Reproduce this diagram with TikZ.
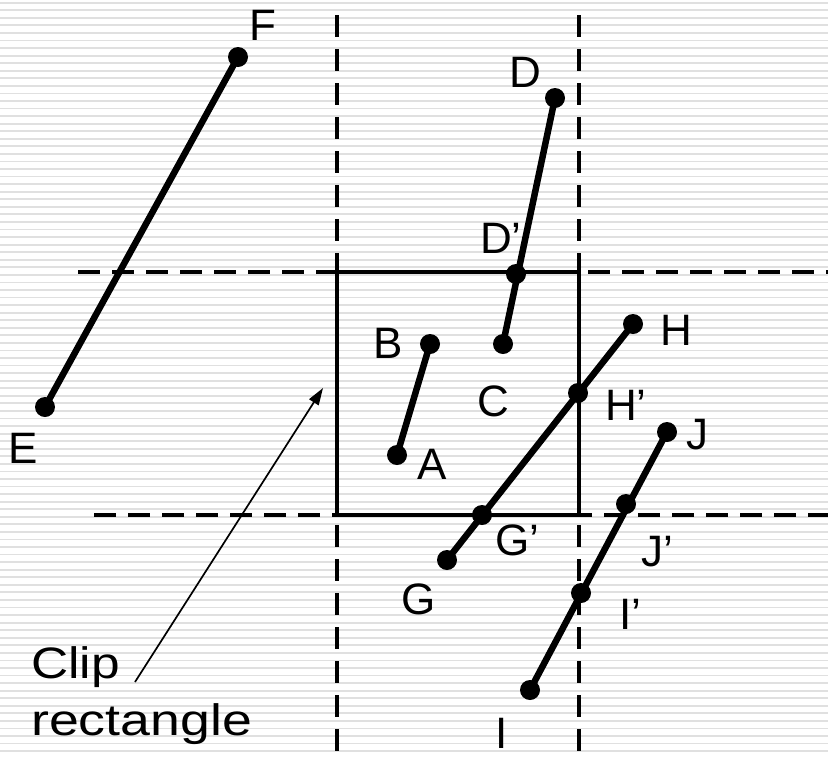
\documentclass[tikz,border=0pt]{standalone}
\usepackage{fontspec}
\setmainfont{Liberation Sans}
\usetikzlibrary{arrows.meta}
\definecolor{stripe}{RGB}{224,224,224}
\begin{document}
\begin{tikzpicture}[x=1pt,y=-1pt,
    dot/.style={circle,fill=black,inner sep=0pt,minimum size=20pt},
    seg/.style={line width=6.5pt},
    cut/.style={line width=3.2pt,dash pattern=on 22pt off 12pt},
    lbl/.style={inner sep=0pt,font=\fontsize{44}{50}\selectfont}]
\useasboundingbox (0,0) rectangle (828,756);
% striped background
\foreach \k in {0,...,99}
    \draw[stripe,line width=1.8pt](0,2.7+7.56*\k)--(828,2.7+7.56*\k);
% window edges
\draw[cut](337,15)--(337,756);
\draw[cut](579,15)--(579,756);
\draw[cut](78,272)--(828,272);
\draw[cut](94,515)--(828,515);
\draw[line width=3.2pt](337,272) rectangle (579,515);
% end points
\node[dot](E) at (45,407){};
\node[dot](F) at (238,57){};
\node[dot](D) at (555,98){};
\node[dot](Dp) at (516,274){};
\node[dot](C) at (503,344){};
\node[dot](B) at (430,344){};
\node[dot](A) at (397,455){};
\node[dot](H) at (633,324){};
\node[dot](Hp) at (578,393){};
\node[dot](Gp) at (482,515){};
\node[dot](G) at (447,560){};
\node[dot](J) at (667,432){};
\node[dot](Jp) at (626,504){};
\node[dot](Ip) at (581,593){};
\node[dot](I) at (530,690){};
\draw[seg](E.center)--(F.center);
\draw[seg](D.center)--(C.center);
\draw[seg](B.center)--(A.center);
\draw[seg](H.center)--(G.center);
\draw[seg](J.center)--(I.center);
% labels
\node[lbl](lF) at (263,25){F};
\node[lbl](lE) at (23,448){E};
\node[lbl](lD) at (525,72){D};
\node[lbl](lDp) at (501,238){D’};
\node[lbl](lB) at (388,343){B};
\node[lbl](lC) at (493,401){C};
\node[lbl](lA) at (432,464){A};
\node[lbl](lH) at (676,330){H};
\node[lbl](lHp) at (626,405){H’};
\node[lbl](lJ) at (697,435){J};
\node[lbl](lJp) at (657,552){J’};
\node[lbl](lIp) at (630,614){I’};
\node[lbl](lGp) at (517,540){G’};
\node[lbl](lG) at (419,599){G};
\node[lbl](lI) at (502,733){I};
% caption
\node[lbl,anchor=base west](clip) at (31,678){\scalebox{1.17}[1]{Clip}};
\node[lbl,anchor=base west](rect) at (31,735){\scalebox{1.22}[1]{rectangle}};
\coordinate (tail) at (135,682);
\coordinate (tip) at (323,388);
\draw[line width=1.7pt,-{Triangle[length=17pt,width=11pt]}](tail)--(tip);
\end{tikzpicture}
\end{document}
